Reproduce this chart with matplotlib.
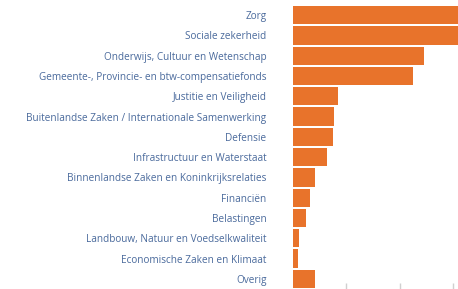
import matplotlib
matplotlib.use("Agg")
from matplotlib import pyplot as plt

# begroting per ministerie (mld euro), gelezen uit de afbeelding
categories = [
    "Zorg",
    "Sociale zekerheid",
    "Onderwijs, Cultuur en Wetenschap",
    "Gemeente-, Provincie- en btw-compensatiefonds",
    "Justitie en Veiligheid",
    "Buitenlandse Zaken / Internationale Samenwerking",
    "Defensie",
    "Infrastructuur en Waterstaat",
    "Binnenlandse Zaken en Koninkrijksrelaties",
    "Financiën",
    "Belastingen",
    "Landbouw, Natuur en Voedselkwaliteit",
    "Economische Zaken en Klimaat",
    "Overig",
]
values = [104, 101, 49.0, 44.8, 17.0, 15.4, 14.8, 12.7, 8.3, 6.2, 4.9, 2.1, 1.9, 8.3]
xticks = [20, 40, 60]

bar_color = "#e8732b"
text_color = "#4a6a9c"

plt.rcParams["font.family"] = ["Open Sans", "DejaVu Sans"]

fig = plt.figure(figsize=(4.58, 2.89), dpi=100)
ax = fig.add_axes([293 / 458, 0.0, 1 - 293 / 458, 1 - 5 / 289])

ypos = list(range(len(categories)))
ax.barh(ypos, values, height=0.9, color=bar_color)
ax.set_yticks(ypos)
ax.set_yticklabels(categories, fontsize=7.2, color=text_color)
ax.set_ylim(len(categories) - 0.5, -0.5)
ax.set_xlim(0, 61.8)

ax.set_xticks(xticks)
ax.set_xticklabels([])
ax.tick_params(axis="x", direction="in", length=4, color="#d0d0d0", width=1)
ax.tick_params(axis="y", length=0, pad=19)

for side in ["top", "right", "bottom", "left"]:
    ax.spines[side].set_visible(False)

fig.savefig("out.png", dpi=100)
